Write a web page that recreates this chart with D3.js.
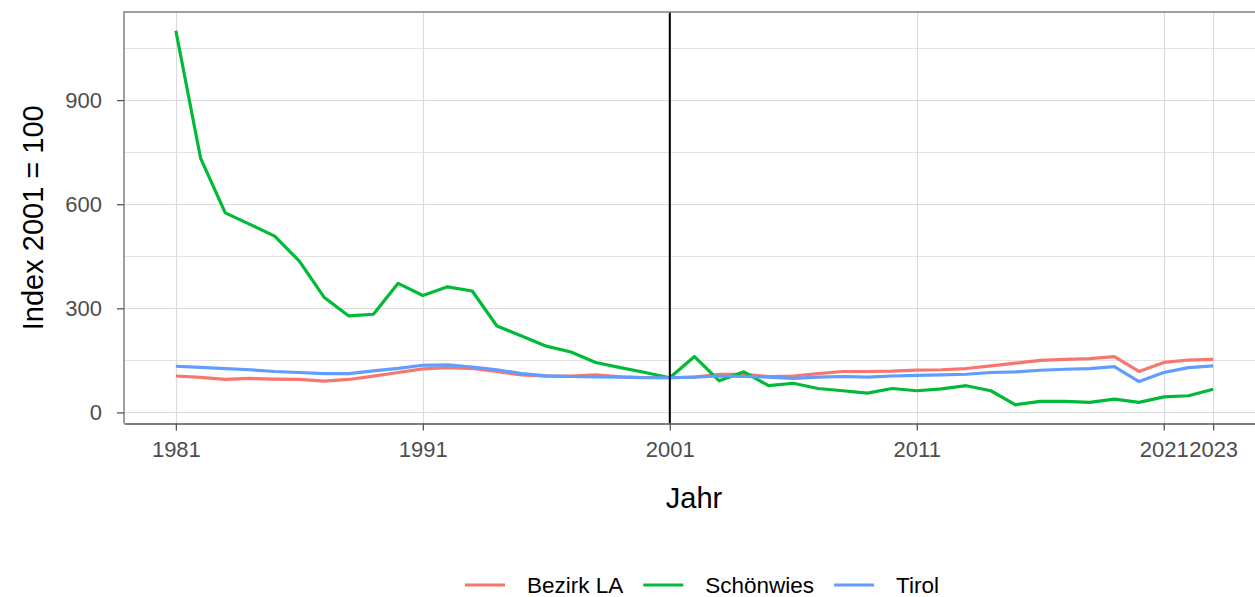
<!DOCTYPE html>
<html>
<head>
<meta charset="utf-8">
<script src="https://cdn.jsdelivr.net/npm/d3@7"></script>
<style>
  body { margin: 0; background: #fff; }
  svg { display: block; font-family: "Liberation Sans", Arial, sans-serif; }
</style>
</head>
<body>
<svg id="chart"></svg>
<script>
// data
var years = d3.range(1981, 2024);

var bezirkLA = [105, 101, 95, 98, 96, 95, 90, 95, 104.5, 115, 125.5, 129, 126.5, 118, 108, 104.5, 104.5, 108, 102.5, 100.6, 100,
  102, 110, 110, 103.5, 105, 112, 118, 118, 119, 122,
  123, 126.5, 134, 142, 150, 153, 155, 161, 118, 144, 151, 153];

var schoenwies = [1100, 733, 575, 542, 508, 436, 332, 278, 283, 372, 337, 362, 350, 249, 220, 191, 174, 144, 129, 115, 100,
  161, 91, 117, 77, 84, 69, 62.5, 55.5, 69, 62.5,
  68, 77, 62.5, 22, 32, 32, 29, 38.5, 29, 45, 48, 67];

var tirol = [133, 130, 126.5, 123, 118, 115, 112, 112, 120, 127, 136, 137, 131, 123, 112, 105.5, 103.5, 102.5, 101.5, 100, 100,
  102, 105, 103.5, 102, 98, 101.5, 103.5, 102, 105, 107,
  108, 110, 115, 117, 121.5, 124.5, 126.5, 132, 89, 115, 129, 134];

var seriesNames = ["Bezirk LA", "Schönwies", "Tirol"];
var seriesColors = ["#F8766D", "#00BA38", "#619CFF"];
var xBreaks = [1981, 1991, 2001, 2011, 2021, 2023];
var yBreaks = [0, 300, 600, 900];
var yMinor = [150, 450, 750, 1050];
var refYear = 2001;

var series = [bezirkLA, schoenwies, tirol].map(function(vals, i) {
  return { name: seriesNames[i], color: seriesColors[i],
    values: vals.map(function(v, j) { return { year: years[j], value: v }; }) };
});

var width = 1255, height = 597;
var panel = { left: 124, right: 1265, top: 12, bottom: 423.5 };

var svg = d3.select("#chart").attr("width", width).attr("height", height);

// ggplot-like 5% expansion
var xExt = d3.extent(years), xPad = (xExt[1] - xExt[0]) * 0.05;
var x = d3.scaleLinear().domain([xExt[0] - xPad, xExt[1] + xPad]).range([panel.left, panel.right]);

var allVals = bezirkLA.concat(schoenwies, tirol);
var yExt = d3.extent(allVals), yPad = (yExt[1] - yExt[0]) * 0.05;
var y = d3.scaleLinear().domain([yExt[0] - yPad, yExt[1] + yPad]).range([panel.bottom, panel.top]);

// grid
var grid = svg.append("g");
grid.selectAll(".hminor").data(yMinor).enter().append("line")
  .attr("x1", panel.left).attr("x2", panel.right)
  .attr("y1", function(d) { return Math.round(y(d)) + 0.5; })
  .attr("y2", function(d) { return Math.round(y(d)) + 0.5; })
  .attr("stroke", "#e3e3e3").attr("stroke-width", 1);
grid.selectAll(".hmajor").data(yBreaks).enter().append("line")
  .attr("x1", panel.left).attr("x2", panel.right)
  .attr("y1", function(d) { return Math.round(y(d)) + 0.5; })
  .attr("y2", function(d) { return Math.round(y(d)) + 0.5; })
  .attr("stroke", "#dcdcdc").attr("stroke-width", 1.2);
grid.selectAll(".vmajor").data(xBreaks).enter().append("line")
  .attr("y1", panel.top).attr("y2", panel.bottom)
  .attr("x1", function(d) { return Math.round(x(d)) + 0.5; })
  .attr("x2", function(d) { return Math.round(x(d)) + 0.5; })
  .attr("stroke", "#dcdcdc").attr("stroke-width", 1.2);

// lines
var line = d3.line().x(function(d) { return x(d.year); }).y(function(d) { return y(d.value); });
svg.append("g").selectAll("path").data(series).enter().append("path")
  .attr("d", function(d) { return line(d.values); })
  .attr("fill", "none")
  .attr("stroke", function(d) { return d.color; })
  .attr("stroke-width", 3.2)
  .attr("stroke-linejoin", "round");

// reference line at 2001
svg.append("line")
  .attr("x1", x(refYear)).attr("x2", x(refYear))
  .attr("y1", panel.top).attr("y2", panel.bottom)
  .attr("stroke", "#000").attr("stroke-width", 2);

// panel border (left, top)
svg.append("path")
  .attr("d", "M" + panel.left + "," + panel.bottom + "V" + panel.top + "H" + panel.right)
  .attr("fill", "none").attr("stroke", "#808080").attr("stroke-width", 1.5);

// axes
var xAxis = svg.append("g")
  .attr("transform", "translate(0," + panel.bottom + ")")
  .call(d3.axisBottom(x).tickValues(xBreaks).tickFormat(d3.format("d")).tickSize(7).tickSizeOuter(0).tickPadding(11));
xAxis.select(".domain").attr("stroke", "#555").attr("stroke-width", 1.5);
xAxis.selectAll(".tick line").attr("stroke", "#555").attr("stroke-width", 1.3);
xAxis.selectAll("text").attr("fill", "#4d4d4d").style("font-size", "22px");

var yAxis = svg.append("g")
  .attr("transform", "translate(" + panel.left + ",0)")
  .call(d3.axisLeft(y).tickValues(yBreaks).tickSize(7).tickPadding(15));
yAxis.select(".domain").remove();
yAxis.selectAll(".tick line").attr("stroke", "#555").attr("stroke-width", 1.3);
yAxis.selectAll("text").attr("fill", "#4d4d4d").style("font-size", "22px");

// axis titles
svg.append("text")
  .attr("x", 694).attr("y", 498).attr("dy", "0.35em")
  .attr("text-anchor", "middle").style("font-size", "29px").attr("fill", "#000")
  .text("Jahr");
svg.append("text")
  .attr("transform", "translate(33," + ((panel.top + panel.bottom) / 2) + ") rotate(-90)")
  .attr("dy", "0.35em")
  .attr("text-anchor", "middle").style("font-size", "29px").attr("fill", "#000")
  .text("Index 2001 = 100");

// legend
var legend = svg.append("g");
var items = legend.selectAll("g").data(series).enter().append("g");
items.append("line")
  .attr("x1", 0).attr("x2", 40).attr("y1", 0).attr("y2", 0)
  .attr("stroke", function(d) { return d.color; }).attr("stroke-width", 3.2);
items.append("text")
  .attr("x", 62).attr("dy", "0.35em")
  .style("font-size", "22.5px").attr("fill", "#000")
  .text(function(d) { return d.name; });
var pos = 0, offsets = [];
items.each(function() {
  offsets.push(pos);
  var w = d3.select(this).select("text").node().getComputedTextLength();
  pos += 62 + w + 20;
});
var startX = 465;
items.attr("transform", function(d, i) { return "translate(" + (startX + offsets[i]) + ",585)"; });
</script>
</body>
</html>
